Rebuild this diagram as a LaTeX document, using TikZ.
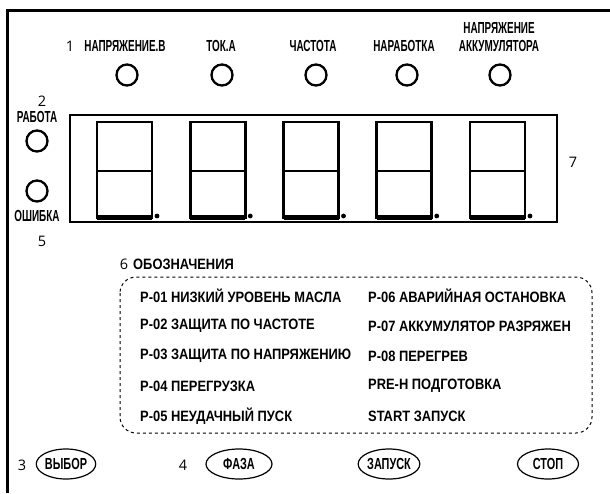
\documentclass[tikz,border=0pt]{standalone}
\usepackage{fontspec}
\usetikzlibrary{shapes.geometric}
\setmainfont{Liberation Sans}
\newfontfamily\labfont[FakeStretch=0.62]{Liberation Sans}
\newfontfamily\btnfont[FakeStretch=0.68]{Liberation Sans}
\newfontfamily\legfont[FakeStretch=0.86]{Liberation Sans}
\newfontfamily\numfont{Open Sans}
\begin{document}
\begin{tikzpicture}[x=1pt,y=-1pt,
  lab/.style={font=\labfont\bfseries\fontsize{16}{16}\selectfont, inner sep=0pt, align=center},
  leg/.style={font=\legfont\bfseries\fontsize{15}{15}\selectfont, inner sep=0pt, anchor=west},
  num/.style={font=\numfont\fontsize{14.5}{14.5}\selectfont, inner sep=0pt},
  lamp/.style={circle, draw, line width=2.3pt, minimum size=21pt, inner sep=0pt},
  btn/.style={ellipse, draw, line width=1.2pt, minimum width=58pt, minimum height=30pt, inner sep=0pt,
    font=\btnfont\bfseries\fontsize{16}{16}\selectfont},
  dig/.style={line width=2.8pt},
]
\useasboundingbox (0,0) rectangle (610,493);
% outer frame
\draw[line width=3pt] (7,493) -- (7,10) -- (610,10);
% top labels and lamps
\node[num] (n1) at (70,46) {1};
\node[lab] (t1) at (125,46) {НАПРЯЖЕНИЕ.В};
\node[lab] (t2) at (221,46) {ТОК.А};
\node[lab] (t3) at (313,46) {ЧАСТОТА};
\node[lab] (t4) at (404,46) {НАРАБОТКА};
\node[lab] (t5) at (499,37) {НАПРЯЖЕНИЕ\\[2pt]АККУМУЛЯТОРА};
\node[lamp] (l1) at (127,75) {};
\node[lamp] (l2) at (222,75) {};
\node[lamp] (l3) at (316,75) {};
\node[lamp] (l4) at (407,75) {};
\node[lamp] (l5) at (500,75) {};
% left lamps
\node[num] (n2) at (42,101) {2};
\node[lab] (rab) at (37,117) {РАБОТА};
\node[lamp] (lr) at (37,141) {};
\node[lamp] (le) at (37,191) {};
\node[lab] (osh) at (37,216) {ОШИБКА};
\node[num] (n5) at (42,241) {5};
% display
\draw[line width=2.6pt] (70,115) rectangle (557,222);
\foreach \i in {0,...,4}{
  \pgfmathsetmacro{\xa}{97+93.25*\i}
  \pgfmathsetmacro{\xb}{\xa+55}
  \draw[dig] (\xa,122) rectangle (\xb,218);
  \draw[line width=2pt] (\xa,171) -- (\xb,171);
  \draw[line width=5pt] (\xa,217.5) -- (\xb,217.5);
  \fill (\xb+5,216) circle (2.4pt);
}
\node[num] (n7) at (573,162) {7};
% legend
\node[num] (n6) at (124,264) {6};
\node[leg] (obz) at (133,264) {ОБОЗНАЧЕНИЯ};
\draw[dashed, line width=1pt, rounded corners=16pt] (120,277) rectangle (592,433);
\node[leg] (p1) at (140,296) {Р-01 НИЗКИЙ УРОВЕНЬ МАСЛА};
\node[leg] (p2) at (140,326) {Р-02 ЗАЩИТА ПО ЧАСТОТЕ};
\node[leg] (p3) at (140,356) {Р-03 ЗАЩИТА ПО НАПРЯЖЕНИЮ};
\node[leg] (p4) at (140,386) {Р-04 ПЕРЕГРУЗКА};
\node[leg] (p5) at (140,416) {Р-05 НЕУДАЧНЫЙ ПУСК};
\node[leg] (p6) at (368,296) {Р-06 АВАРИЙНАЯ ОСТАНОВКА};
\node[leg] (p7) at (368,326) {Р-07 АККУМУЛЯТОР РАЗРЯЖЕН};
\node[leg] (p8) at (368,356) {Р-08 ПЕРЕГРЕВ};
\node[leg] (p9) at (368,386) {PRE-H ПОДГОТОВКА};
\node[leg] (p10) at (368,416) {START ЗАПУСК};
% buttons
\node[num] (n3) at (22,465) {3};
\node[btn] (b1) at (66,464) {ВЫБОР};
\node[num] (n4) at (183,465) {4};
\node[btn, minimum width=66pt] (b2) at (239,464) {ФАЗА};
\node[btn] (b3) at (389,464) {ЗАПУСК};
\node[btn, minimum width=61pt] (b4) at (548,464) {СТОП};
\end{tikzpicture}
\end{document}
